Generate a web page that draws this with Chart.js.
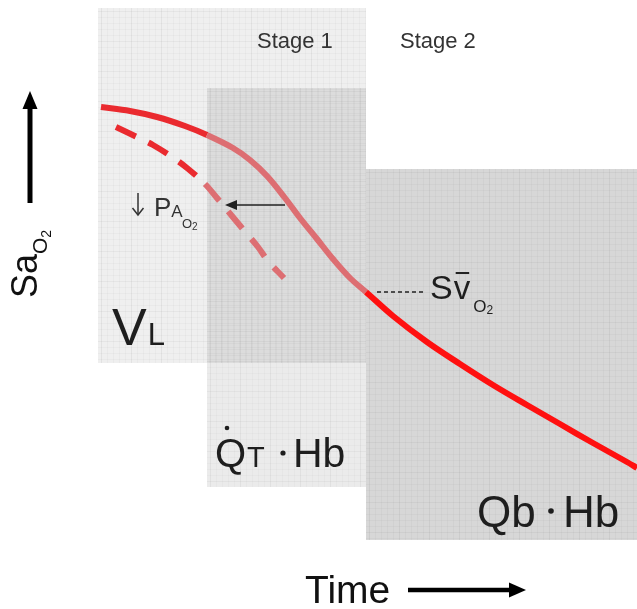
<!DOCTYPE html>
<html>
<head>
<meta charset="utf-8">
<script src="https://cdn.jsdelivr.net/npm/chart.js@4"></script>
<style>
  body { margin: 0; background: #fff; }
  #wrap { width: 637px; height: 609px; }
</style>
</head>
<body>
<div id="wrap"><canvas id="myChart" width="637" height="609"></canvas></div>
<script>
// curve (x = time, y = depth on page, axis reversed)
const solidTime = [101, 130, 157, 185, 207, 233, 250, 267, 285, 300, 317, 333, 350, 366, 393, 427, 460, 493, 527, 560, 593, 627, 637];
const solidSat  = [107, 111, 117, 126, 135, 148, 160, 176, 198, 218, 239, 259, 278, 292, 316, 342, 364, 385, 405, 424, 443, 462, 468];
const dashTime  = [116, 137, 153, 172, 187, 205, 217, 232, 242, 258, 268, 284];
const dashSat   = [127, 137, 145, 157, 168, 184, 198, 216, 228, 247, 261, 278];

// stage blocks: [x0, x1, y0, y1]
const blockVL = [98, 366, 8, 363];
const blockQT = [207, 366, 88, 487];
const blockQb = [366, 637, 169, 540];
const stage1Start = 207, stage2Start = 366;

const RED_L = '#ea2a2f', PINK = '#dd6e72', RED_R = '#ff1010';
const FONT = '"Liberation Sans", Arial, sans-serif';

function toPts(xs, ys) { return xs.map((x, i) => ({ x: x, y: ys[i] })); }

function rectPx(chart, b) {
  const sx = chart.scales.x, sy = chart.scales.y;
  const x0 = sx.getPixelForValue(b[0]), x1 = sx.getPixelForValue(b[1]);
  const y0 = sy.getPixelForValue(b[2]), y1 = sy.getPixelForValue(b[3]);
  return [x0, y0, x1 - x0, y1 - y0];
}

function gridIn(ctx, r) {
  ctx.save();
  ctx.beginPath(); ctx.rect(r[0], r[1], r[2], r[3]); ctx.clip();
  ctx.lineWidth = 1;
  let n = 0;
  for (let x = r[0] + 3; x < r[0] + r[2]; x += 6, n++) {
    ctx.strokeStyle = n % 5 === 0 ? 'rgba(0,0,0,0.05)' : 'rgba(0,0,0,0.022)';
    ctx.beginPath(); ctx.moveTo(Math.round(x) + 0.5, r[1]); ctx.lineTo(Math.round(x) + 0.5, r[1] + r[3]); ctx.stroke();
  }
  n = 0;
  for (let y = r[1] + 3; y < r[1] + r[3]; y += 6, n++) {
    ctx.strokeStyle = n % 5 === 0 ? 'rgba(0,0,0,0.04)' : 'rgba(0,0,0,0.022)';
    ctx.beginPath(); ctx.moveTo(r[0], Math.round(y) + 0.5); ctx.lineTo(r[0] + r[2], Math.round(y) + 0.5); ctx.stroke();
  }
  ctx.restore();
}

function txt(ctx, s, x, y, size, color) {
  ctx.font = size + 'px ' + FONT;
  ctx.fillStyle = color || '#1e1e1e';
  ctx.textBaseline = 'alphabetic';
  ctx.textAlign = 'left';
  ctx.fillText(s, x, y);
  return x + ctx.measureText(s).width;
}

function arrow(ctx, x0, y0, x1, y1, w, headL, headW, color) {
  const a = Math.atan2(y1 - y0, x1 - x0);
  const bx = x1 - Math.cos(a) * headL, by = y1 - Math.sin(a) * headL;
  ctx.save();
  ctx.strokeStyle = color; ctx.fillStyle = color; ctx.lineWidth = w;
  ctx.beginPath(); ctx.moveTo(x0, y0); ctx.lineTo(bx, by); ctx.stroke();
  ctx.beginPath();
  ctx.moveTo(x1, y1);
  ctx.lineTo(bx + Math.sin(a) * headW / 2, by - Math.cos(a) * headW / 2);
  ctx.lineTo(bx - Math.sin(a) * headW / 2, by + Math.cos(a) * headW / 2);
  ctx.closePath(); ctx.fill();
  ctx.restore();
}

const blocks = {
  id: 'blocks',
  beforeDatasetsDraw(chart) {
    const ctx = chart.ctx;
    const a = rectPx(chart, blockVL), b = rectPx(chart, blockQT), c = rectPx(chart, blockQb);
    ctx.save();
    ctx.fillStyle = '#efefef'; ctx.fillRect(a[0], a[1], a[2], a[3]);
    gridIn(ctx, a);
    ctx.fillStyle = 'rgba(0,0,0,0.08)'; ctx.fillRect(b[0], b[1], b[2], b[3]);
    gridIn(ctx, b);
    ctx.fillStyle = '#d7d7d7'; ctx.fillRect(c[0], c[1], c[2], c[3]);
    gridIn(ctx, c);
    ctx.restore();
  },
  afterDatasetsDraw(chart) {
    const ctx = chart.ctx, sx = chart.scales.x, sy = chart.scales.y;
    ctx.save();
    // stage labels
    txt(ctx, 'Stage 1', 257, 48, 22, '#333');
    txt(ctx, 'Stage 2', 400, 48, 22, '#333');

    // arrow from normal curve to low PAO2 curve
    const ay = sy.getPixelForValue(205);
    arrow(ctx, sx.getPixelForValue(285), ay, sx.getPixelForValue(225), ay, 1.5, 12, 10, '#222');

    // ↓ PAO2
    ctx.strokeStyle = '#333'; ctx.lineWidth = 1.5;
    ctx.beginPath(); ctx.moveTo(138, 193); ctx.lineTo(138, 215); ctx.stroke();
    ctx.beginPath(); ctx.moveTo(132.5, 208); ctx.lineTo(138, 215); ctx.lineTo(143.5, 208); ctx.stroke();
    let x = txt(ctx, 'P', 154, 216, 26, '#333');
    x = txt(ctx, 'A', x, 217, 17, '#333');
    x = txt(ctx, 'O', 182, 228, 13, '#333');
    txt(ctx, '2', x, 230, 10, '#333');

    // S v-bar O2 with leader
    const vy = sy.getPixelForValue(292);
    ctx.setLineDash([4, 3]); ctx.strokeStyle = '#222'; ctx.lineWidth = 1.5;
    ctx.beginPath(); ctx.moveTo(sx.getPixelForValue(377), vy); ctx.lineTo(sx.getPixelForValue(424), vy); ctx.stroke();
    ctx.setLineDash([]);
    x = txt(ctx, 'S', 430, 299, 34);
    const vx = x;
    x = txt(ctx, 'v', x + 1, 299, 33);
    ctx.lineWidth = 2; ctx.strokeStyle = '#222';
    ctx.beginPath(); ctx.moveTo(vx + 3, 273); ctx.lineTo(x - 1, 273); ctx.stroke();
    x = txt(ctx, 'O', x + 3, 312, 17);
    txt(ctx, '2', x, 314, 12);

    // V_L
    x = txt(ctx, 'V', 112, 345, 52);
    txt(ctx, 'L', x + 1, 345, 31);

    // Q-dot T . Hb
    x = txt(ctx, 'Q', 215, 467, 40);
    ctx.fillStyle = '#1e1e1e';
    ctx.beginPath(); ctx.arc(227, 428, 2.3, 0, Math.PI * 2); ctx.fill();
    txt(ctx, 'T', x + 1, 467, 29);
    ctx.beginPath(); ctx.arc(283, 453, 2.6, 0, Math.PI * 2); ctx.fill();
    txt(ctx, 'Hb', 293, 467, 41);

    // Qb . Hb
    txt(ctx, 'Qb', 477, 527, 44);
    ctx.fillStyle = '#1e1e1e';
    ctx.beginPath(); ctx.arc(551, 511, 2.8, 0, Math.PI * 2); ctx.fill();
    txt(ctx, 'Hb', 563, 527, 44);

    // axis titles
    txt(ctx, 'Time', 305, 603, 39, '#111');
    arrow(ctx, 408, 590, 526, 590, 4.5, 17, 15, '#000');
    arrow(ctx, 30, 203, 30, 91, 5, 18, 15, '#000');
    ctx.translate(37, 298);
    ctx.rotate(-Math.PI / 2);
    x = txt(ctx, 'Sa', 0, 0, 36, '#111');
    x = txt(ctx, 'O', x, 10, 21, '#111');
    txt(ctx, '2', x, 14, 14, '#111');
    ctx.restore();
  }
};

const ctx = document.getElementById('myChart').getContext('2d');
const myChart = new Chart(ctx, {
  type: 'line',
  data: {
    datasets: [{
      label: 'SaO2',
      data: toPts(solidTime, solidSat),
      borderWidth: 6,
      tension: 0.35,
      pointRadius: 0,
      fill: false,
      segment: {
        borderColor: c => c.p0.parsed.x < stage1Start ? RED_L : (c.p0.parsed.x < stage2Start ? PINK : RED_R)
      }
    }, {
      label: 'SaO2 (low PAO2)',
      data: toPts(dashTime, dashSat),
      borderWidth: 6,
      borderDash: [22, 14],
      tension: 0.35,
      pointRadius: 0,
      fill: false,
      segment: {
        borderColor: c => c.p0.parsed.x < stage1Start - 2 ? RED_L : PINK
      }
    }]
  },
  options: {
    responsive: false,
    animation: false,
    layout: { padding: 0 },
    plugins: { legend: { display: false }, tooltip: { enabled: false } },
    scales: {
      x: { type: 'linear', min: 0, max: 637, display: false },
      y: { type: 'linear', min: 0, max: 609, reverse: true, display: false }
    }
  },
  plugins: [blocks]
});
</script>
</body>
</html>
